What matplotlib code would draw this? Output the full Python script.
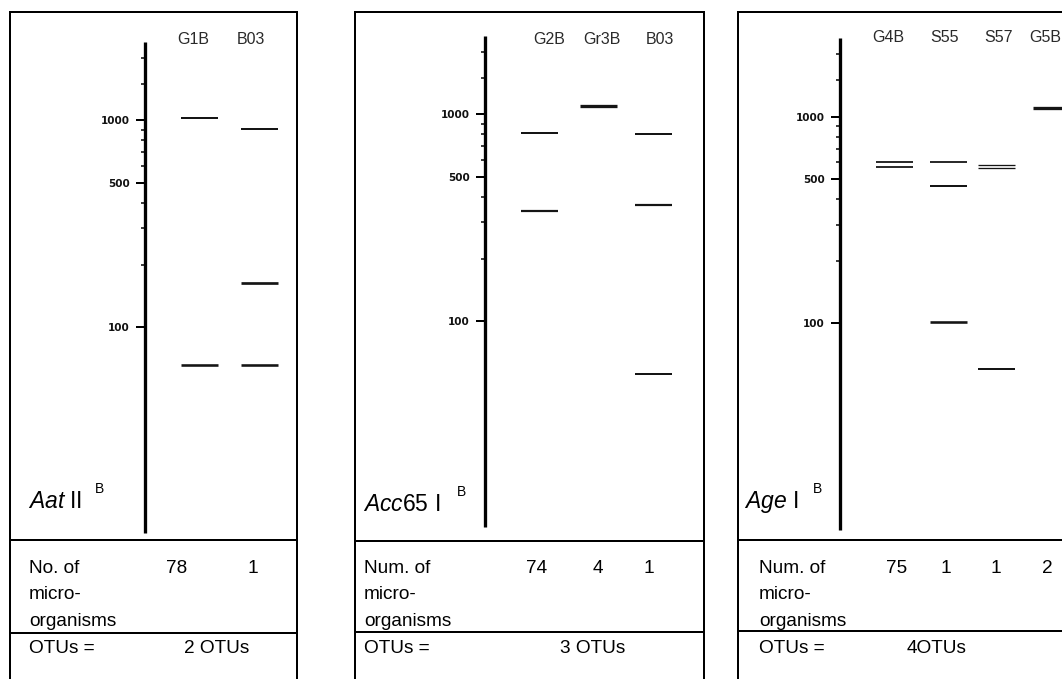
import matplotlib
matplotlib.use("Agg")
import matplotlib.pyplot as plt
from matplotlib.lines import Line2D

plt.rcParams["font.family"] = ["Liberation Sans", "DejaVu Sans"]
plt.rcParams["mathtext.fontset"] = "custom"
plt.rcParams["mathtext.rm"] = "Liberation Sans"
plt.rcParams["mathtext.it"] = "Liberation Sans:italic"

# ---- size ladder (bp) ----
ladder_major = [100, 500, 1000]
ladder_major_labels = ["100", "500", "1000"]
ladder_minor = [200, 300, 400, 600, 700, 800, 900, 1500, 2000]

# ---- AatII digest ----
aat_enzyme = ("Aat", " II")
aat_lanes = ["G1B", "B03"]
aat_bands = [[1027, 65.5], [908, 163, 65.5]]
aat_counts = [78, 1]
aat_otus = "2 OTUs"
aat_count_title = "No. of"

# ---- Acc65I digest ----
acc_enzyme = ("Acc", "65 I")
acc_lanes = ["G2B", "Gr3B", "B03"]
acc_bands = [[814, 341], [1098], [801, 362, 55]]
acc_counts = [74, 4, 1]
acc_otus = "3 OTUs"
acc_count_title = "Num. of"

# ---- AgeI digest ----
age_enzyme = ("Age", " I")
age_lanes = ["G4B", "S55", "S57", "G5B"]
age_bands = [[604, 571], [604, 460, 101], [582, 563, 60], [1106]]
age_counts = [75, 1, 1, 2]
age_otus = "4OTUs"
age_count_title = "Num. of"

W, H = 1062, 679
fig = plt.figure(figsize=(W / 100, H / 100), dpi=100)


def fx(x):
    return x / W


def fy(y):
    return 1 - y / H


def px(v):
    return v * 72 / 100


def fig_line(x0, y0, x1, y1, lw=2.0):
    fig.add_artist(Line2D([fx(x0), fx(x1)], [fy(y0), fy(y1)],
                          transform=fig.transFigure, color="black",
                          lw=px(lw), solid_capstyle="projecting"))


def fig_text(x, y, s, **kw):
    fig.text(fx(x), fy(y), s, **kw)


# layout of each panel (pixel units)
layouts = [
    dict(box=(10, 297), div=(540, 633), axis_x=145, axis_top=42, axis_bot=533,
         lane_x=[54.7, 114], band_px=[[2.0, 2.6], [2.0, 2.7, 2.6]],
         label_x=[193.5, 251], label_y=40, count_x=[177, 253], otus_x=217,
         text_x=29, name_x=28, name_base=508, sup=(99, 489)),
    dict(box=(355, 704), div=(541, 632), axis_x=485, axis_top=36, axis_bot=527,
         lane_x=[54.3, 113.3, 168.7], band_px=[[2.0, 2.2], [3.3], [2.0, 2.2, 2.0]],
         label_x=[549.5, 601.7, 660], label_y=39, count_x=[537, 598, 649], otus_x=593,
         text_x=364, name_x=363, name_base=511, sup=(462, 492)),
    dict(box=(738, 1200), div=(540, 631), axis_x=840, axis_top=38, axis_bot=530,
         lane_x=[54.2, 108.5, 156.8, 211], band_px=[[1.8, 1.8], [1.8, 2.0, 2.6], [1.3, 1.3, 2.0], [3.3]],
         label_x=[888, 944.7, 999, 1045], label_y=37.5, count_x=[897, 946, 996, 1047], otus_x=937,
         text_x=759, name_x=744, name_base=508, sup=(817, 489)),
]

panels = [
    (aat_enzyme, aat_lanes, aat_bands, aat_counts, aat_otus, aat_count_title),
    (acc_enzyme, acc_lanes, acc_bands, acc_counts, acc_otus, acc_count_title),
    (age_enzyme, age_lanes, age_bands, age_counts, age_otus, age_count_title),
]

band_half = 18.5
row1, row2, row3, row_otu = 572.7, 599.3, 626, 652.7
fs_table = 13.7

for (enzyme, lanes, bands, counts, otus, count_title), L in zip(panels, layouts):
    left, right = L["box"]
    top = 12
    # panel frame and table dividers
    fig_line(left, top, right, top)
    fig_line(left, top, left, H + 20)
    fig_line(right, top, right, H + 20)
    for d in L["div"]:
        fig_line(left, d, right, d)

    # gel lane area with size axis
    ax_w = right - L["axis_x"]
    ax = fig.add_axes([fx(L["axis_x"]), fy(L["axis_bot"]),
                       ax_w / W, (L["axis_bot"] - L["axis_top"]) / H])
    ax.set_facecolor("none")
    ax.set_yscale("log")
    ax.set_ylim(10, 2400)
    ax.set_xlim(0, ax_w)
    for s in ("top", "right", "bottom"):
        ax.spines[s].set_visible(False)
    ax.spines["left"].set_linewidth(px(3.3))
    ax.spines["left"].set_capstyle("butt")
    ax.set_xticks([])
    ax.set_yticks(ladder_major)
    ax.set_yticklabels(ladder_major_labels, fontsize=7.5, fontweight="bold",
                       family="DejaVu Sans", color="#111111")
    ax.set_yticks(ladder_minor, minor=True)
    ax.yaxis.set_minor_formatter(plt.NullFormatter())
    ax.tick_params(axis="y", which="major", length=px(9), width=px(2), pad=px(6))
    ax.tick_params(axis="y", which="minor", length=px(4.5), width=px(1.5))

    for lx, lane_bands, widths in zip(L["lane_x"], bands, L["band_px"]):
        for b, w in zip(lane_bands, widths):
            ax.hlines(b, lx - band_half, lx + band_half, color="#151515",
                      lw=px(w), clip_on=False)

    # lane names
    for name, x in zip(lanes, L["label_x"]):
        fig_text(x, L["label_y"], name, ha="center", va="center",
                 fontsize=11.5, color="#2a2a2a")

    # enzyme name
    fig_text(L["name_x"], L["name_base"], r"$\it{%s}$%s" % enzyme,
             ha="left", va="baseline", fontsize=16.5)
    fig_text(L["sup"][0], L["sup"][1], "B", ha="center", va="center", fontsize=10)

    # count table
    fig_text(L["text_x"], row1, count_title, ha="left", va="baseline", fontsize=fs_table)
    fig_text(L["text_x"], row2, "micro-", ha="left", va="baseline", fontsize=fs_table)
    fig_text(L["text_x"], row3, "organisms", ha="left", va="baseline", fontsize=fs_table)
    for c, x in zip(counts, L["count_x"]):
        fig_text(x, row1, str(c), ha="center", va="baseline", fontsize=fs_table)
    fig_text(L["text_x"], row_otu, "OTUs =", ha="left", va="baseline", fontsize=fs_table)
    fig_text(L["otus_x"], row_otu, otus, ha="center", va="baseline", fontsize=fs_table)

fig.savefig("out.png", dpi=100, facecolor="white")
